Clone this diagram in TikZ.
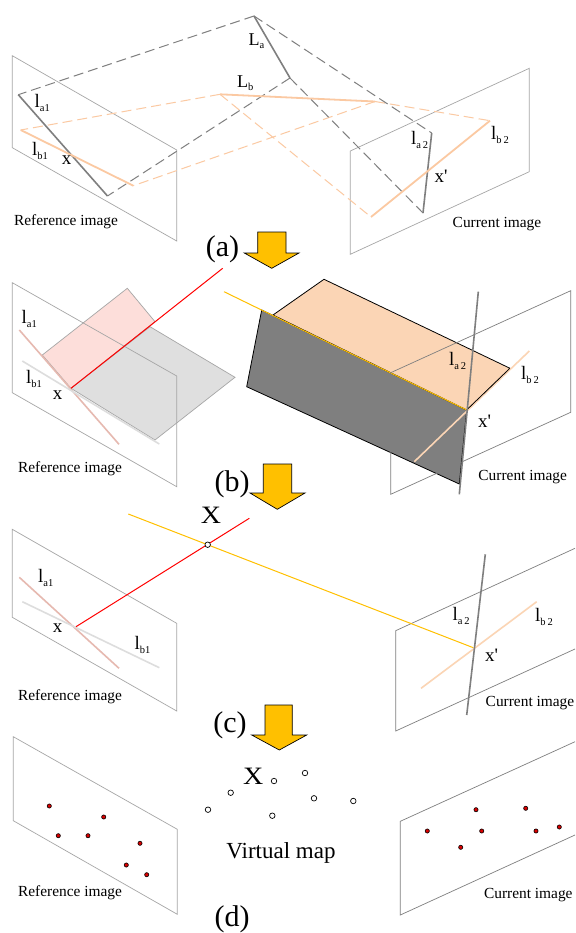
\documentclass[tikz,border=0pt]{standalone}
\usepackage{fontspec}
\setmainfont{Liberation Serif}
\newfontfamily\plainserif{Liberation Serif}
\definecolor{arrowyellow}{HTML}{FFC000}
\definecolor{peach}{HTML}{FBC9A2}
\definecolor{lightpeach}{HTML}{FBD5B5}
\definecolor{darkg}{HTML}{7F7F7F}
\definecolor{planeg}{HTML}{A6A6A6}
\definecolor{pinkl}{HTML}{E6B9B0}
\definecolor{greyl}{HTML}{DDDDDD}
\definecolor{pinkfill}{HTML}{FDDEDA}
\definecolor{greyfill}{HTML}{DFDFDF}
\newcommand{\fs}[1]{\fontsize{#1}{#1}\selectfont}
\newcommand{\lsub}[1]{{\fs{19}l}{\fs{10.5}\raisebox{-3.5pt}{#1}}}
\newcommand{\xp}{{\plainserif x'}}
\tikzset{
 plane/.style={draw=planeg,line width=0.7pt},
 gline/.style={draw=darkg,line width=1.6pt},
 gdash/.style={draw=darkg,line width=1pt,dash pattern=on 10pt off 5pt},
 pline/.style={draw=peach,line width=1.8pt},
 pdash/.style={draw=peach,line width=1pt,dash pattern=on 10pt off 5pt},
 fadedp/.style={draw=lightpeach,line width=1.6pt},
 pinkline/.style={draw=pinkl,line width=1.6pt},
 greyline/.style={draw=greyl,line width=1.6pt},
 redline/.style={draw=red,line width=1pt},
 yelline/.style={draw=arrowyellow,line width=1pt},
 bigarrow/.style={draw=black,fill=arrowyellow,line width=0.7pt,line join=miter},
 captext/.style={inner sep=0pt,font=\fs{15.4},yshift=-2pt},
 lbl/.style={inner sep=0pt,anchor=west},
 xlbl/.style={inner sep=0pt,font=\fs{19}},
 bigx/.style={inner sep=0pt,font=\fs{25},yshift=-1pt},
 panel/.style={inner sep=0pt,font=\fs{30},yshift=-2pt},
 mapdot/.style={circle,draw=black,fill=white,line width=0.7pt,minimum size=5.5pt,inner sep=0pt},
 imgdot/.style={circle,draw=black,fill=red!85!black,line width=0.6pt,minimum size=4.2pt,inner sep=0pt},
}
\begin{document}
\begin{tikzpicture}[x=1pt,y=-1pt]
\useasboundingbox (0,0) rectangle (575,933);
\fill[white] (0,0) rectangle (575,933);
% ---------- (a)
\draw[plane] (12.3,55.7)--(176.7,150)--(176.7,241)--(12.3,147.7)--cycle;
\draw[plane] (350.3,151)--(529.3,68.3)--(529.3,171.7)--(350.3,254.3)--cycle;
\coordinate (A) at (254,16); \coordinate (A2) at (290,78);
\coordinate (a1s) at (18.3,94.7); \coordinate (a1e) at (107.5,196);
\coordinate (a2s) at (431.7,133); \coordinate (a2e) at (423,213);
\coordinate (B) at (220,94.3); \coordinate (B2) at (375,101.5);
\coordinate (b1s) at (20.7,130); \coordinate (b1e) at (133.3,185.7);
\coordinate (b2s) at (371,217); \coordinate (b2e) at (490,120.7);
\draw[pdash] (B)--(b1s); \draw[pdash] (B)--(b2s);
\draw[pdash] (B2)--(b1e); \draw[pdash] (B2)--(b2e);
\draw[gdash] (A)--(a1s); \draw[gdash] (A)--(a2s);
\draw[gdash] (A2)--(a1e); \draw[gdash] (A2)--(a2e);
\draw[gline] (A)--(A2); \draw[gline] (a1s)--(a1e); \draw[gline] (a2s)--(a2e);
\draw[pline] (B)--(B2); \draw[pline] (b1s)--(b1e); \draw[pline] (b2s)--(b2e);
\node[lbl] (tLa) at (248.5,41) {{\fs{18}L}{\fs{10.5}\raisebox{-3.5pt}{a}}};
\node[lbl] (tLb) at (237,83) {{\fs{18}L}{\fs{10.5}\raisebox{-3.5pt}{b}}};
\node[lbl] (ta1) at (34.5,103) {\lsub{a1}};
\node[lbl] (tb1) at (32,151) {\lsub{b1}};
\node[lbl] (ta2) at (411,140) {\lsub{a\kern1.8pt 2}};
\node[lbl] (tb2) at (491,135) {\lsub{b\kern1.8pt 2}};
\node[xlbl] (tx) at (66.7,160) {x};
\node[xlbl] (txp) at (441,176) {\xp};
\node[captext] (tr) at (66,220) {Reference image};
\node[captext] (tc) at (497,222) {Current image};
\node[panel] (pa) at (222.5,247) {(a)};
\draw[bigarrow] (257.7,232)--(286,232)--(286,253)--(299,253)--(271.7,268.3)--(244.3,253)--(257.7,253)--cycle;
% ---------- (b)
\coordinate (bx) at (71,388.3);
\coordinate (bxp) at (466.7,410);
\filldraw[fill=pinkfill,draw=planeg,line width=0.7pt] (42.3,355)--(127.3,288.3)--(155,321.7)--(bx)--cycle;
\filldraw[fill=greyfill,draw=planeg,line width=0.7pt] (bx)--(150,326.7)--(235,377.3)--(155,440)--cycle;
\draw[plane] (12.3,282.7)--(176.7,376)--(176.7,486.7)--(12.3,392.7)--cycle;
\draw[pinkline] (19.3,330)--(119,444.3);
\draw[greyline] (22.3,361)--(159.3,444);
\draw[redline] (bx)--(222.7,268.3);
\filldraw[fill=darkg,draw=black,line width=0.8pt] (261.7,310)--(246.7,386.7)--(459.3,484)--(bxp)--cycle;
\filldraw[fill=lightpeach,draw=black,line width=0.8pt] (273,315)--(324,279.3)--(510,368.3)--(bxp)--cycle;
\draw[yelline] (224,291.7)--(bxp);
\draw[plane,draw=darkg] (390.7,372.7)--(570.7,290.7)--(570.7,412.3)--(390.7,494.3)--cycle;
\draw[fadedp] (414.3,461.7)--(529.3,351);
\draw[black,line width=0.6pt] (bxp)--(510,368.3);
\draw[gline] (478.3,291.7)--(459.3,494.3);
\node[lbl] (ua1) at (21.5,319) {\lsub{a1}};
\node[lbl] (ub1) at (26,379) {\lsub{b1}};
\node[lbl] (ua2) at (449,361) {\lsub{a\kern1.8pt 2}};
\node[lbl] (ub2) at (521,375) {\lsub{b\kern1.8pt 2}};
\node[xlbl] (ux) at (57.5,395) {x};
\node[xlbl] (uxp) at (484.5,421) {\xp};
\node[captext] (ur) at (70,467) {Reference image};
\node[captext] (uc) at (522.7,475) {Current image};
\node[panel] (pb) at (232,482) {(b)};
\draw[bigarrow] (263.3,464)--(291.7,464)--(291.7,493)--(305,493)--(277.3,509.3)--(250,493)--(263.3,493)--cycle;
% ---------- (c)
\draw[plane] (12.3,529.3)--(176.7,623.3)--(176.7,711)--(12.3,617.3)--cycle;
\draw[plane,draw=darkg] (575,548.3)--(395.7,630.7)--(395.7,731)--(575,649);
\draw[pinkline] (19.3,577.3)--(119,668.3);
\draw[greyline] (22.3,601.7)--(159.3,667.7);
\coordinate (cxp) at (473.3,647.7);
\draw[redline] (76,626.7)--(249.3,518.3);
\draw[yelline] (128.3,514)--(cxp);
\node[mapdot] (cX) at (207.7,544.7) {};
\draw[fadedp] (421,688.3)--(536.7,601.7);
\draw[gline] (485.3,554.3)--(466.7,715);
\node[lbl] (va1) at (38,578) {\lsub{a1}};
\node[lbl] (vb1) at (134.5,645) {\lsub{b1}};
\node[lbl] (va2) at (452.5,616) {\lsub{a\kern1.8pt 2}};
\node[lbl] (vb2) at (535,617) {\lsub{b\kern1.8pt 2}};
\node[xlbl] (vx) at (57.5,628) {x};
\node[xlbl] (vxp) at (491.7,655) {\xp};
\node[bigx] (vX) at (211,514) {\scalebox{1.12}[1]{X}};
\node[captext] (vr) at (70,695) {Reference image};
\node[captext] (vc) at (530,701) {Current image};
\node[panel] (pc) at (230,723) {(c)};
\draw[bigarrow] (265,705)--(292.3,705)--(292.3,735)--(306.7,735)--(279.3,750)--(251.7,735)--(265,735)--cycle;
% ---------- (d)
\draw[plane] (13.3,736.7)--(177.3,829.3)--(177.3,914.3)--(13.3,820.7)--cycle;
\draw[plane,draw=darkg] (575,741.7)--(400.3,821.3)--(400.3,915)--(575,835);
\foreach \n/\p in {r1/{49.3,806},r2/{103.7,817},r3/{58.3,835.7},r4/{88,835.7},r5/{140,843.3},r6/{126.3,865},r7/{146.7,874.7},
  s1/{427.3,831},s2/{476,809.7},s3/{525.7,808.3},s4/{481.7,831},s5/{536,831},s6/{559.3,827},s7/{460.7,847.3}}
  \node[imgdot] (\n) at (\p) {};
\foreach \n/\p in {m1/{208,809.7},m2/{230.7,792.7},m3/{274,781},m4/{272.3,815.7},m5/{305,773},m6/{314,798.3},m7/{353.3,801}}
  \node[mapdot] (\n) at (\p) {};
\node[bigx] (wX) at (253.3,775) {\scalebox{1.12}[1]{X}};
\node[inner sep=0pt,font=\fs{23},yshift=-1.5pt] (wv) at (281,851) {Virtual map};
\node[captext,yshift=1pt] (wr) at (70,891.7) {Reference image};
\node[captext,yshift=1pt] (wc) at (528.3,894.3) {Current image};
\node[panel,yshift=2pt] (pd) at (232,919) {(d)};
\end{tikzpicture}
\end{document}
